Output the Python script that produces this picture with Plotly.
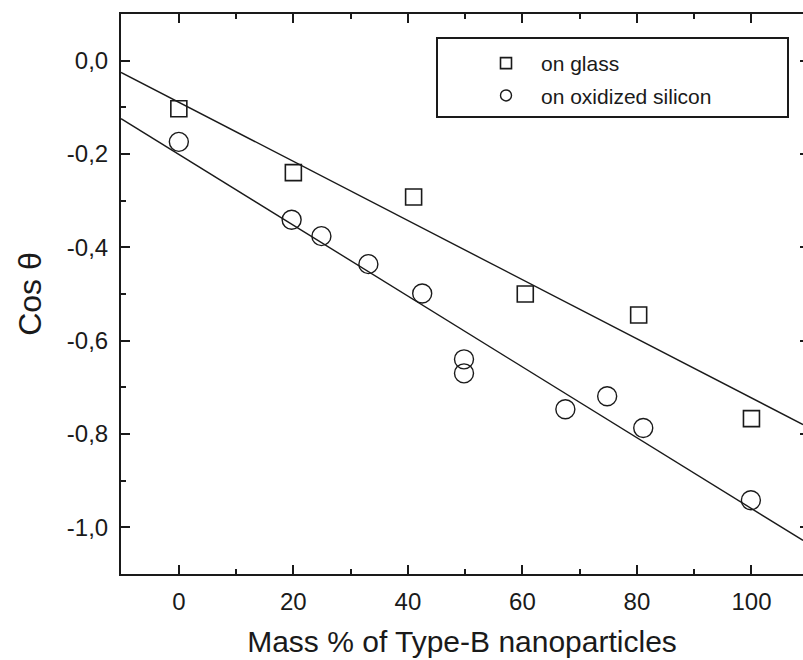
import numpy as np
import plotly.graph_objects as go

# ---- data ----
glass_x = [0, 20, 41, 60.5, 80.3, 100]
glass_y = [-0.103, -0.240, -0.292, -0.500, -0.545, -0.767]

silicon_x = [0, 19.7, 24.9, 33.1, 42.5, 49.8, 49.8, 67.5, 74.8, 81.1, 99.9]
silicon_y = [-0.174, -0.341, -0.376, -0.436, -0.499, -0.640, -0.670, -0.747, -0.719, -0.787, -0.942]

series_names = ["on glass", "on oxidized silicon"]
x_title = "Mass % of Type-B nanoparticles"
y_title = "Cos θ"

y_tick_vals = [0.0, -0.2, -0.4, -0.6, -0.8, -1.0]
y_tick_text = ["0,0", "-0,2", "-0,4", "-0,6", "-0,8", "-1,0"]

x_range = [-10.1, 109.0]
y_range = [-1.1, 0.1]

FONT = "Arial, Liberation Sans, sans-serif"
INK = "#1a1a1a"

fig = go.Figure()

# linear fits
for xs, ys in [(glass_x, glass_y), (silicon_x, silicon_y)]:
    k, b = np.polyfit(xs, ys, 1)
    fx = np.array(x_range)
    fig.add_trace(go.Scatter(x=fx, y=k * fx + b, mode="lines",
                             line=dict(color=INK, width=1.4),
                             showlegend=False, hoverinfo="skip"))

fig.add_trace(go.Scatter(x=glass_x, y=glass_y, mode="markers", showlegend=False,
                         marker=dict(symbol="square-open", size=16, color=INK,
                                     line=dict(width=1.6, color=INK))))
fig.add_trace(go.Scatter(x=silicon_x, y=silicon_y, mode="markers", showlegend=False,
                         marker=dict(symbol="circle-open", size=19, color=INK,
                                     line=dict(width=1.4, color=INK))))

# legend entries (smaller symbols as in the reference legend)
fig.add_trace(go.Scatter(x=[None], y=[None], mode="markers", name=series_names[0],
                         legendgroup="a",
                         marker=dict(symbol="square-open", size=11, color=INK,
                                     line=dict(width=1.6, color=INK))))
fig.add_trace(go.Scatter(x=[None], y=[None], mode="markers", name=series_names[1],
                         legendgroup="b",
                         marker=dict(symbol="circle-open", size=11, color=INK,
                                     line=dict(width=1.4, color=INK))))

# invisible trace to carry the right-hand tick axis
fig.add_trace(go.Scatter(x=[None], y=[None], yaxis="y2", showlegend=False, hoverinfo="skip"))

axis_common = dict(showgrid=False, zeroline=False, showline=True, linecolor=INK,
                   linewidth=2, ticks="inside", tickcolor=INK, tickwidth=2,
                   ticklen=9, tickfont=dict(family=FONT, size=24, color=INK))

fig.update_layout(
    width=803, height=660,
    margin=dict(l=121, r=0, t=14, b=86),
    paper_bgcolor="white", plot_bgcolor="white",
    separators=", ",
    font=dict(family=FONT, color=INK),
    xaxis=dict(range=x_range, dtick=20, tick0=0, mirror="ticks",
               minor=dict(dtick=10, tick0=0, ticks="inside", ticklen=5,
                          tickwidth=2, tickcolor=INK, showgrid=False),
               ticklabelstandoff=5,
               title=dict(text=x_title, font=dict(family=FONT, size=30, color=INK),
                          standoff=17),
               **axis_common),
    yaxis=dict(range=y_range, tickmode="array", tickvals=y_tick_vals, ticktext=y_tick_text,
               minor=dict(dtick=0.1, tick0=0, ticks="inside", ticklen=5,
                          tickwidth=2, tickcolor=INK, showgrid=False),
               ticklabelstandoff=6,
               title=dict(text=y_title, font=dict(family=FONT, size=32, color=INK),
                          standoff=16),
               **axis_common),
    yaxis2=dict(range=y_range, overlaying="y", side="right", dtick=0.2, tick0=0,
                showgrid=False, zeroline=False, showline=False, ticks="inside",
                ticklen=3, tickwidth=2, tickcolor=INK, showticklabels=False),
    legend=dict(x=(471 - 121) / 682, y=1 - (43 - 14) / 560, xanchor="left", yanchor="top",
                bgcolor="rgba(0,0,0,0)", borderwidth=0, itemwidth=60,
                tracegroupgap=2,
                font=dict(family=FONT, size=21, color=INK)),
    shapes=[dict(type="rect", xref="paper", yref="paper",
                 x0=(437 - 121) / 682, x1=(788 - 121) / 682,
                 y0=1 - (117 - 14) / 560, y1=1 - (38 - 14) / 560,
                 line=dict(color=INK, width=2), fillcolor="rgba(0,0,0,0)")],
)

fig.write_html("out.html")
